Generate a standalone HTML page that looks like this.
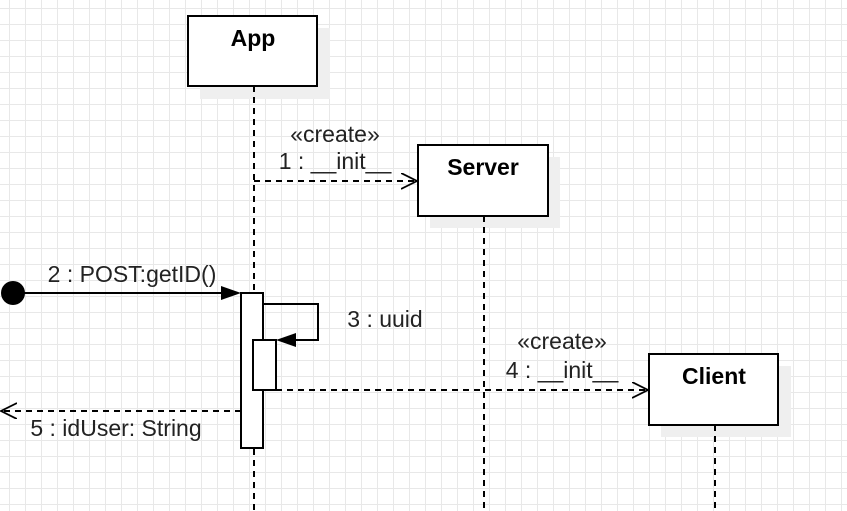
<!DOCTYPE html>
<html><head><style>
body{margin:0;width:847px;height:511px;overflow:hidden;background:#fff;
background-image:linear-gradient(to right,#e8e8e8 1px,transparent 1px),linear-gradient(to bottom,#e8e8e8 1px,transparent 1px);
background-size:16px 16px;background-position:9px 8px;}
svg{position:absolute;left:0;top:0}
text{font-family:"Liberation Sans",sans-serif;font-size:23px;fill:#222}
.b{font-weight:bold;font-size:23px;fill:#000}
</style></head><body>
<svg width="847" height="511" viewBox="0 0 847 511">
<defs>
<marker id="open" markerWidth="20" markerHeight="20" refX="16" refY="8" orient="auto" markerUnits="userSpaceOnUse"><path d="M0,0 L16,8 L0,16" fill="none" stroke="#000" stroke-width="1.8"/></marker>
</defs>
<rect x="200" y="28" width="130" height="71" fill="#efefef"/>
<rect x="430" y="157" width="130" height="71" fill="#efefef"/>
<rect x="661" y="366" width="130" height="71" fill="#efefef"/>
<g stroke="#000" stroke-width="2" stroke-dasharray="6,5">
<line x1="254" y1="86" x2="254" y2="511"/>
<line x1="484" y1="216" x2="484" y2="511"/>
<line x1="715" y1="425" x2="715" y2="511"/>
</g>
<g fill="#fff" stroke="#000" stroke-width="2">
<rect x="188" y="16" width="129" height="70"/>
<rect x="418" y="145" width="130" height="71"/>
<rect x="649" y="354" width="129" height="71"/>
</g>
<text class="b" x="253" y="46" text-anchor="middle">App</text>
<text class="b" x="483" y="175" text-anchor="middle">Server</text>
<text class="b" x="714" y="384" text-anchor="middle">Client</text>
<rect x="241" y="293" width="22" height="155" fill="#fff" stroke="#000" stroke-width="2"/>
<rect x="253" y="340" width="23" height="50" fill="#fff" stroke="#000" stroke-width="2"/>
<polyline points="263,304 318,304 318,340 290,340" fill="none" stroke="#000" stroke-width="2"/>
<path d="M276,340 L296,333 L296,347 Z" fill="#000"/>
<text x="385" y="327" text-anchor="middle">3 : uuid</text>
<circle cx="13" cy="293" r="12" fill="#000"/>
<line x1="13" y1="293" x2="225" y2="293" stroke="#000" stroke-width="2"/>
<path d="M241,293 L221,286 L221,300 Z" fill="#000"/>
<text x="132" y="282" text-anchor="middle">2 : POST:getID()</text>
<line x1="254" y1="181" x2="417" y2="181" stroke="#000" stroke-width="2" stroke-dasharray="6,5" marker-end="url(#open)"/>
<text x="335" y="142" text-anchor="middle">«create»</text>
<text x="335" y="169" text-anchor="middle">1 : __init__</text>
<line x1="276" y1="390" x2="648" y2="390" stroke="#000" stroke-width="2" stroke-dasharray="6,5" marker-end="url(#open)"/>
<text x="562" y="349" text-anchor="middle">«create»</text>
<text x="562" y="378" text-anchor="middle">4 : __init__</text>
<line x1="241" y1="411" x2="1" y2="411" stroke="#000" stroke-width="2" stroke-dasharray="6,5" marker-end="url(#open)"/>
<text x="116" y="436" text-anchor="middle">5 : idUser: String</text>
</svg>
</body></html>
